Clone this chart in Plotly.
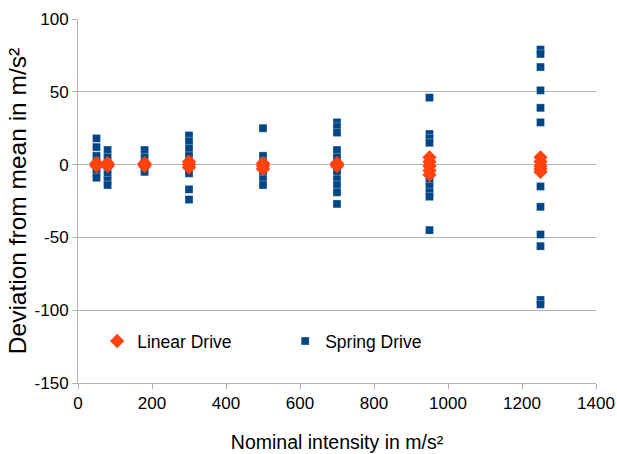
import plotly.graph_objects as go

# Spring Drive data (x = nominal intensity, y = deviation)
spring_x = [50]*7 + [80]*7 + [180]*5 + [300]*9 + [500]*7 + [700]*11 + [950]*13 + [1250]*14
spring_y = [18, 12, 6, 2, -2, -6, -9,
            10, 5, 1, -3, -7, -11, -14,
            10, 5, 1, -2, -5,
            20, 16, 11, 6, 2, -2, -6, -17, -24,
            25, 6, 2, -2, -6, -10, -14,
            29, 26, 22, 10, 5, 0, -5, -10, -14, -19, -27,
            46, 21, 18, 15, 3, 0, -3, -8, -12, -15, -19, -22, -45,
            79, 76, 67, 51, 39, 29, 3, -2, -15, -29, -48, -56, -93, -96]

# Linear Drive data
linear_x = [50]*3 + [80]*3 + [180]*3 + [300]*3 + [500]*3 + [700]*3 + [950]*5 + [1250]*5
linear_y = [0, 1, -1,
            0, 1, -1,
            0, 1, -1,
            2, 0, -2,
            1, -1, -3,
            1, 0, -1,
            5, 2, -1, -4, -7,
            5, 2, -1, -3, -5]

y_ticks = [100, 50, 0, -50, -100, -150]
y_tick_labels = ["100", "50", "0", "-50", "-100", "-150"]
x_ticks = [0, 200, 400, 600, 800, 1000, 1200, 1400]
x_tick_labels = ["0", "200", "400", "600", "800", "1000", "1200", "1400"]

FONT = "Liberation Sans, Arial, sans-serif"

fig = go.Figure()
fig.add_trace(go.Scatter(
    x=spring_x, y=spring_y, mode="markers", name="Spring Drive",
    marker=dict(symbol="square", size=8, color="#004586",
                line=dict(color="rgba(255,255,255,0.6)", width=0.5)),
))
fig.add_trace(go.Scatter(
    x=linear_x, y=linear_y, mode="markers", name="Linear Drive",
    marker=dict(symbol="diamond", size=11, color="#ff420e"),
))

fig.update_layout(
    width=617, height=454,
    paper_bgcolor="white", plot_bgcolor="white",
    margin=dict(l=78, r=21, t=19, b=71),
    font=dict(family=FONT, size=17, color="#000000"),
    showlegend=True,
    legend=dict(
        orientation="h", x=0.037, y=0.115, xanchor="left", yanchor="middle",
        bgcolor="rgba(0,0,0,0)", font=dict(size=17.5),
        traceorder="reversed", itemwidth=30, entrywidthmode="pixels", entrywidth=143,
    ),
    xaxis=dict(
        range=[0, 1400.01], tickvals=x_ticks, ticktext=x_tick_labels,
        automargin=False,
        showgrid=False, zeroline=False,
        showline=True, linecolor="#b3b3b3", linewidth=1,
        ticks="outside", ticklen=5, tickcolor="#b3b3b3",
        title=dict(text="Nominal intensity in m/s²", font=dict(size=19.5), standoff=22),
    ),
    yaxis=dict(
        range=[-150, 100.01], tickvals=y_ticks, ticktext=y_tick_labels,
        automargin=False,
        showgrid=True, gridcolor="#b3b3b3", gridwidth=1,
        zeroline=True, zerolinecolor="#b3b3b3", zerolinewidth=1,
        showline=True, linecolor="#b3b3b3", linewidth=1,
        ticks="outside", ticklen=5, tickcolor="#b3b3b3",
        title=dict(text="Deviation from mean in m/s²", font=dict(size=24.5), standoff=0),
    ),
)

fig.write_html("out.html", config={"displayModeBar": False},
               post_script="document.body.style.margin='0';")
